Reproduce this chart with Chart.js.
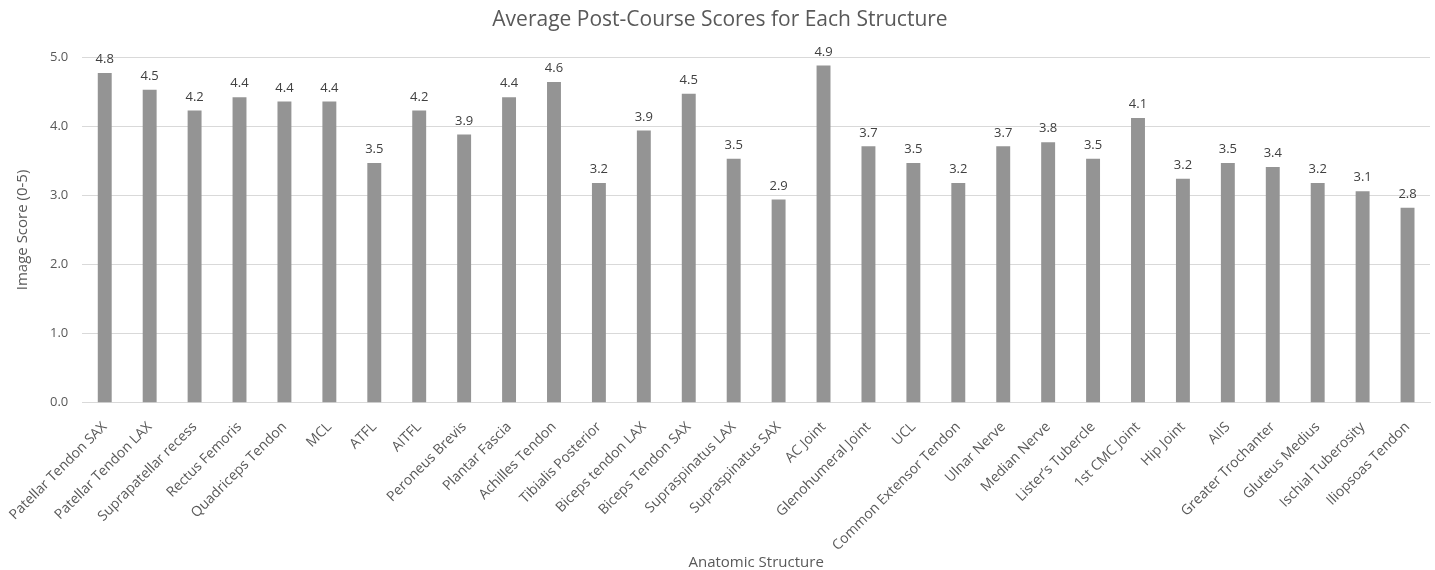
<!DOCTYPE html>
<html>
<head>
<meta charset="utf-8">
<script src="https://cdn.jsdelivr.net/npm/chart.js@4"></script>
<style>
  html, body { margin: 0; padding: 0; background: #fff; }
  #wrap { width: 1435px; height: 570px; }
</style>
</head>
<body>
<div id="wrap"><canvas id="chart"></canvas></div>
<script>
const structures = [
  'Patellar Tendon SAX', 'Patellar Tendon LAX', 'Suprapatellar recess', 'Rectus Femoris',
  'Quadriceps Tendon', 'MCL', 'ATFL', 'AITFL', 'Peroneus Brevis', 'Plantar Fascia',
  'Achilles Tendon', 'Tibialis Posterior', 'Biceps tendon LAX', 'Biceps Tendon SAX',
  'Supraspinatus LAX', 'Supraspinatus SAX', 'AC Joint', 'Glenohumeral Joint', 'UCL',
  'Common Extensor Tendon', 'Ulnar Nerve', 'Median Nerve', 'Lister\u2019s Tubercle',
  '1st CMC Joint', 'Hip Joint', 'AIIS', 'Greater Trochanter', 'Gluteus Medius',
  'Ischial Tuberosity', 'Iliopsoas Tendon'
];
const scores = [
  4.77, 4.53, 4.23, 4.42, 4.36, 4.36, 3.47, 4.23, 3.88, 4.42,
  4.64, 3.18, 3.94, 4.47, 3.53, 2.94, 4.88, 3.71, 3.47, 3.18,
  3.71, 3.77, 3.53, 4.12, 3.24, 3.47, 3.41, 3.18, 3.06, 2.82
];
const yTicks = [0, 1, 2, 3, 4, 5];

const font = "'Open Sans', 'Noto Sans', sans-serif";

const valueLabels = {
  id: 'valueLabels',
  afterDatasetsDraw(chart) {
    const ctx = chart.ctx;
    const meta = chart.getDatasetMeta(0);
    ctx.save();
    ctx.font = '13px ' + font;
    ctx.fillStyle = '#404040';
    ctx.textAlign = 'center';
    ctx.textBaseline = 'bottom';
    meta.data.forEach((bar, i) => {
      ctx.fillText(scores[i].toFixed(1), bar.x, bar.y - 7);
    });
    ctx.restore();
  }
};

new Chart(document.getElementById('chart'), {
  type: 'bar',
  data: {
    labels: structures,
    datasets: [{
      label: 'Score',
      data: scores,
      backgroundColor: '#949494',
      barPercentage: 0.31,
      categoryPercentage: 1
    }]
  },
  options: {
    responsive: true,
    maintainAspectRatio: false,
    animation: false,
    layout: { padding: { left: 10, right: 5, top: 0, bottom: 0 } },
    plugins: {
      legend: { display: false },
      tooltip: { enabled: false },
      title: {
        display: true,
        text: 'Average Post-Course Scores for Each Structure',
        color: '#595959',
        font: { family: font, size: 21, weight: 'normal' },
        padding: { top: 7, bottom: 25 }
      }
    },
    scales: {
      x: {
        grid: { display: false },
        border: { color: '#d9d9d9' },
        ticks: {
          color: '#595959',
          font: { family: font, size: 14 },
          minRotation: 45,
          maxRotation: 45,
          autoSkip: false,
          padding: 8
        },
        title: {
          display: true,
          text: 'Anatomic Structure',
          color: '#595959',
          font: { family: font, size: 15 },
          padding: { top: -8, bottom: -2 }
        }
      },
      y: {
        min: 0,
        max: 5,
        afterBuildTicks(axis) { axis.ticks = yTicks.map(v => ({ value: v })); },
        grid: { color: '#d9d9d9', drawTicks: false },
        border: { display: false },
        ticks: {
          color: '#595959',
          font: { family: font, size: 13 },
          padding: 14,
          callback: v => v.toFixed(1)
        },
        title: {
          display: true,
          text: 'Image Score (0-5)',
          color: '#595959',
          font: { family: font, size: 15 },
          padding: { bottom: 4 }
        }
      }
    }
  },
  plugins: [valueLabels]
});
</script>
</body>
</html>
